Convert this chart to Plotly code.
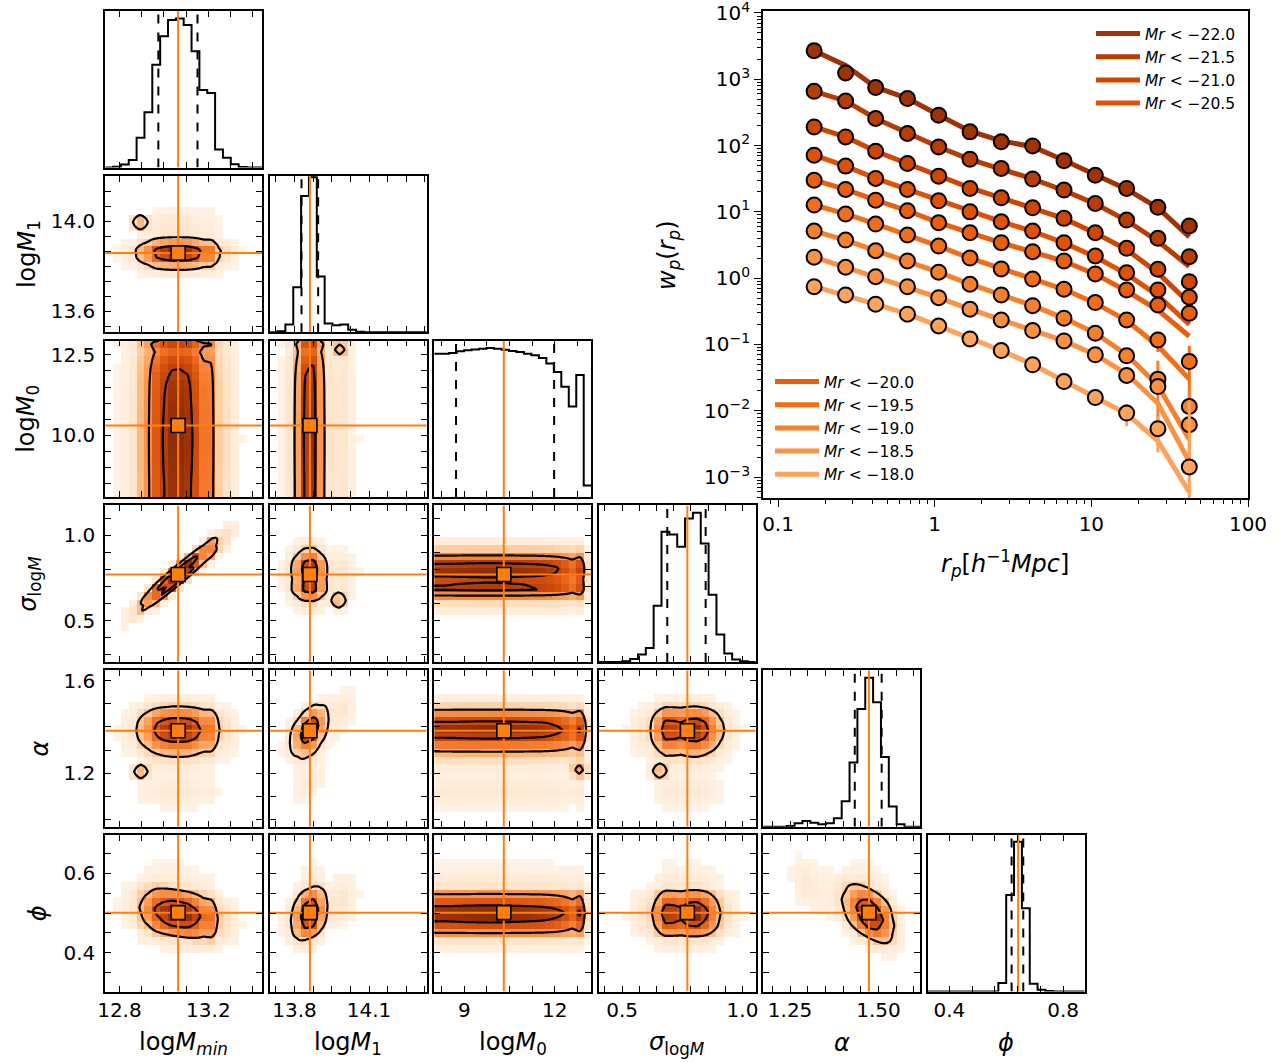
import numpy as np
import plotly.graph_objects as go

W, H = 1283, 1063

# ======================= DATA =======================
# ---- corner plot: parameter axes ----
x_ranges = [[12.736, 13.442], [13.70, 14.332], [8.0, 13.21], [0.4025, 1.055], [1.174, 1.618], [0.324, 0.876]]
y_ranges = [None, [13.506, 14.202], [8.09, 12.94], [0.259, 1.176], [0.968, 1.646], [0.302, 0.697]]

x_ticks = [
    [12.8, 12.9, 13.0, 13.1, 13.2, 13.3, 13.4],
    [13.725, 13.8, 13.875, 13.95, 14.025, 14.1, 14.175, 14.25, 14.325],
    [8.25, 9.0, 9.75, 10.5, 11.25, 12.0, 12.75],
    [0.4286, 0.5, 0.5714, 0.6429, 0.7143, 0.7857, 0.8571, 0.9286, 1.0],
    [1.2, 1.25, 1.3, 1.35, 1.4, 1.45, 1.5, 1.55, 1.6],
    [0.4, 0.48, 0.56, 0.64, 0.72, 0.8],
]
x_tick_labels = [
    ['12.8', '', '', '', '13.2', '', ''],
    ['', '13.8', '', '', '', '14.1', '', '', ''],
    ['', '9', '', '', '', '12', ''],
    ['', '0.5', '', '', '', '', '', '', '1.0'],
    ['', '1.25', '', '', '', '', '1.50', '', ''],
    ['0.4', '', '', '', '', '0.8'],
]
y_ticks = [
    None,
    [13.533, 13.6, 13.667, 13.733, 13.8, 13.867, 13.933, 14.0, 14.067, 14.133, 14.2],
    [8.5, 9.0, 9.5, 10.0, 10.5, 11.0, 11.5, 12.0, 12.5],
    [0.3, 0.4, 0.5, 0.6, 0.7, 0.8, 0.9, 1.0, 1.1],
    [1.0, 1.1, 1.2, 1.3, 1.4, 1.5, 1.6],
    [0.35, 0.4, 0.45, 0.5, 0.55, 0.6, 0.65],
]
y_tick_labels = [
    None,
    ['', '13.6', '', '', '', '', '', '14.0', '', '', ''],
    ['', '', '', '10.0', '', '', '', '', '12.5'],
    ['', '', '0.5', '', '', '', '', '1.0', ''],
    ['', '', '1.2', '', '', '', '1.6'],
    ['', '0.4', '', '', '', '0.6', ''],
]
x_titles = ['log<i>M<sub>min</sub></i>', 'log<i>M</i><sub>1</sub>', 'log<i>M</i><sub>0</sub>',
            '<i>σ</i><sub>log<i>M</i></sub>', '<i>α</i>', '<i>ϕ</i>']

truth_x = [13.064, 13.862, 10.31, 0.771, 1.473, 0.642]
truth_y = [None, 13.859, 10.31, 0.771, 1.384, 0.501]
q_lo = [12.975, 13.828, 8.725, 0.6875, 1.433, 0.619]
q_hi = [13.151, 13.895, 11.98, 0.847, 1.509, 0.660]

hist_logMmin = [0, 0.005, 0.02, 0.05, 0.20, 0.37, 0.69, 0.88, 0.99, 1.0, 0.956, 0.78, 0.52, 0.50, 0.12, 0.066, 0.022, 0.004, 0, 0]
hist_logM1 = [0, 0.006, 0.05, 0.29, 0.88, 1.0, 0.36, 0.056, 0.045, 0.05, 0.017, 0.004, 0, 0, 0, 0, 0, 0, 0, 0]
hist_logM0 = [0.962, 0.962, 0.967, 0.978, 0.985, 0.991, 0.996, 1.0, 0.996, 0.989, 0.98, 0.973, 0.962,
              0.951, 0.934, 0.896, 0.84, 0.741, 0.608, 0.819, 0.077]
hist_sigma = [0, 0, 0, 0.004, 0.02, 0.05, 0.094, 0.376, 0.873, 0.855, 0.773, 0.962, 1.0, 0.795, 0.45, 0.183, 0.056, 0.016, 0.004, 0]
hist_alpha = [0, 0, 0, 0.005, 0.023, 0.038, 0.027, 0.016, 0.023, 0.056, 0.17, 0.43, 0.79, 1.0, 0.835, 0.467, 0.135, 0.016, 0, 0]
hist_phi = [0, 0, 0, 0, 0, 0, 0, 0, 0, 0.056, 0.644, 1.0, 0.556, 0.051, 0.011, 0.003, 0, 0, 0, 0]
hists = [hist_logMmin, hist_logM1, hist_logM0, hist_sigma, hist_alpha, hist_phi]
hist_top = [1.05, 1.01, 1.05, 1.05, 1.05, 1.045]

# spread of each marginal when used on a y axis, correlation tilts (pixel slope) and conditional widths
y_spread = [1.0, 1.0, 1.0, 1.0, 1.5, 1.2]
tilt = {(0, 3): 0.82, (1, 4): 0.6, (1, 5): 0.4, (4, 5): -0.5, (0, 5): -0.15}
cond_width = {(0, 3): 0.45, (1, 4): 0.85}
# small secondary clumps of samples: (x-param, y-param, x value, y value, relative weight)
clumps = [
    (0, 1, 12.893, 13.996, 0.30),
    (1, 2, 13.982, 12.66, 0.32),
    (1, 3, 13.977, 0.618, 0.30),
    (0, 4, 12.896, 1.207, 0.30),
    (2, 4, 12.81, 1.215, 0.34),
    (3, 4, 0.655, 1.21, 0.30),
]

# ---- wp(rp) inset ----
rp = [0.17, 0.27, 0.42, 0.67, 1.06, 1.68, 2.66, 4.22, 6.69, 10.6, 16.8, 26.6, 42.2]
mag_labels = ['−22.0', '−21.5', '−21.0', '−20.5', '−20.0', '−19.5', '−19.0', '−18.5', '−18.0']
wp_m22_0 = [2700, 1245, 750, 512, 287, 161, 114, 98.9, 58.9, 35.8, 22.6, 11.7, 6.1]
wp_m21_5 = [659, 471, 256, 152, 95.5, 62.4, 45.2, 31.2, 21.3, 13.4, 7.53, 3.99, 2.11]
wp_m21_0 = [191, 135, 82.4, 53.7, 34.6, 22.6, 16.3, 11.5, 7.98, 4.84, 2.82, 1.36, 0.885]
wp_m20_5 = [71.6, 49.0, 31.9, 21.8, 14.7, 10.0, 7.09, 5.14, 3.43, 2.16, 1.21, 0.664, 0.515]
wp_m20_0 = [30.1, 21.8, 15.0, 10.4, 6.85, 4.84, 3.43, 2.51, 1.82, 1.16, 0.664, 0.394, 0.296]
wp_m19_5 = [12.7, 9.27, 6.55, 4.48, 3.05, 2.01, 1.38, 0.97, 0.68, 0.428, 0.234, 0.117, 0.0552]
wp_m19_0 = [5.14, 3.76, 2.59, 1.82, 1.23, 0.81, 0.558, 0.385, 0.249, 0.148, 0.0673, 0.030, 0.0116]
wp_m18_5 = [2.07, 1.46, 1.05, 0.745, 0.508, 0.34, 0.234, 0.162, 0.113, 0.0697, 0.034, 0.0232, 0.00615]
wp_m18_0 = [0.745, 0.558, 0.405, 0.286, 0.19, 0.121, 0.081, 0.0493, 0.0276, 0.0158, 0.00923, 0.00536, 0.00142]
wp_data = [wp_m22_0, wp_m21_5, wp_m21_0, wp_m20_5, wp_m20_0, wp_m19_5, wp_m19_0, wp_m18_5, wp_m18_0]

model_m22_0 = [2700, 1620, 760, 515, 290, 165, 118, 96, 60, 36, 22, 11.5, 4.2]
model_m21_5 = [659, 471, 256, 152, 95, 62, 45, 31.5, 21, 13.2, 7.4, 3.6, 1.5]
model_m21_0 = [191, 135, 82, 54, 35, 23, 16.3, 11.5, 7.9, 4.8, 2.7, 1.2, 0.42]
model_m20_5 = [71.6, 49, 32, 21.8, 14.7, 10, 7.1, 5.1, 3.4, 2.1, 1.15, 0.55, 0.2]
model_m20_0 = [30.1, 21.8, 15, 10.4, 6.9, 4.8, 3.4, 2.5, 1.8, 1.15, 0.64, 0.33, 0.133]
model_m19_5 = [12.7, 9.3, 6.6, 4.5, 3.05, 2.0, 1.38, 0.97, 0.68, 0.42, 0.23, 0.095, 0.030]
model_m19_0 = [5.14, 3.76, 2.6, 1.82, 1.23, 0.81, 0.56, 0.385, 0.25, 0.148, 0.07, 0.024, 0.0037]
model_m18_5 = [2.07, 1.46, 1.05, 0.745, 0.51, 0.34, 0.234, 0.162, 0.113, 0.07, 0.036, 0.013, 0.0017]
model_m18_0 = [0.745, 0.558, 0.405, 0.29, 0.19, 0.121, 0.081, 0.05, 0.028, 0.016, 0.009, 0.0035, 0.00059]
wp_model = [model_m22_0, model_m21_5, model_m21_0, model_m20_5, model_m20_0, model_m19_5,
            model_m19_0, model_m18_5, model_m18_0]

wp_err = {
    5: [0, 0, 0, 0, 0, 0, 0, 0, 0, 0, 0, 0.040, 0.040],
    6: [0, 0, 0, 0, 0, 0, 0, 0, 0, 0, 0, 0.027, 0.010],
    8: [0, 0, 0, 0, 0, 0, 0, 0, 0, 0, 0.0034, 0.0030, 0.0130],
}

# ======================= STYLE / LAYOUT =======================
series_colors = ['#a03204', '#b83d03', '#cf4602', '#df5206', '#ea5f0e', '#f26f1a', '#f7802d', '#fb9142', '#fda35b']
ORANGE = '#ff7f0e'
FONT = 'DejaVu Sans'
col_left = [105.2 + 164.5 * c for c in range(6)]
row_top = [11.0 + 164.8 * r for r in range(6)]
PW, PH = 157.0, 156.5
heat_cs = [[0.0, 'rgba(255,255,255,0)'], [0.003, '#fff3e6'], [0.06, '#fee3c8'], [0.14, '#fdc895'],
           [0.3, '#fd9f5a'], [0.5, '#f4772a'], [0.7, '#db5410'], [0.85, '#bd410a'], [1.0, '#8e2c05']]
CLUMP_PX = 11.0   # half-size of a clump kernel in pixels


def edges_centers(i):
    lo, hi = x_ranges[i]
    e = np.linspace(lo, hi, len(hists[i]) + 1)
    return e, 0.5 * (e[1:] + e[:-1])


def marg(i, u):
    lo, hi = x_ranges[i]
    _, c = edges_centers(i)
    f = np.interp(u, c, np.asarray(hists[i], float))
    return np.where((u >= lo) & (u <= hi), f, 0.0)


def upp(i, j):
    return (x_ranges[i][1] - x_ranges[i][0]) / PW, (y_ranges[j][1] - y_ranges[j][0]) / PH


def dens(i, j, U, V, zmax=None):
    xu, yu = upp(i, j)
    s = tilt.get((i, j), 0.0) * yu / xu
    w = cond_width.get((i, j), 1.0)
    veff = truth_y[j] + (V - truth_y[j] - s * (U - truth_x[i])) / w
    ueq = truth_x[j] + (veff - truth_y[j]) / y_spread[j]
    Z = marg(i, U) * marg(j, ueq)
    if zmax is None:
        zmax = Z.max()
    for (ci, cj, cu, cv, cw) in clumps:
        if (ci, cj) == (i, j):
            kx = np.clip(1 - np.abs(U - cu) / (CLUMP_PX * xu), 0, None)
            ky = np.clip(1 - np.abs(V - cv) / (CLUMP_PX * yu), 0, None)
            Z = Z + cw * zmax * kx * ky
    return Z


fig = go.Figure()
layout = dict(width=W, height=H, margin=dict(l=0, r=0, t=0, b=0, autoexpand=False), autosize=False,
              paper_bgcolor='white', plot_bgcolor='white', font=dict(family=FONT, color='black'),
              showlegend=True)
annotations = []


def axname(n):
    return ('xaxis', 'yaxis', 'x', 'y') if n == 1 else (f'xaxis{n}', f'yaxis{n}', f'x{n}', f'y{n}')


base_axis = dict(showline=True, linecolor='black', linewidth=1.7, showgrid=False, zeroline=False,
                 tickcolor='black', tickwidth=1.3, ticklen=6, ticks='inside', automargin=False,
                 tickfont=dict(family=FONT, size=20, color='black'))

n = 0
for r in range(6):
    for c in range(r + 1):
        n += 1
        xa, ya, xr, yr = axname(n)
        x0 = col_left[c]
        y0 = row_top[r]
        xdom = [x0 / W, (x0 + PW) / W]
        ydom = [1 - (y0 + PH) / H, 1 - y0 / H]
        xax = dict(base_axis, domain=xdom, anchor=yr, range=x_ranges[c], mirror='ticks',
                   tickmode='array', tickvals=x_ticks[c],
                   ticktext=x_tick_labels[c] if r == 5 else [''] * len(x_ticks[c]),
                   showticklabels=(r == 5))
        if r == c:
            # ---------------- 1D histogram ----------------
            e, _ = edges_centers(c)
            h = list(hists[c])
            fig.add_trace(go.Scatter(x=list(e), y=h + [h[-1]], mode='lines', line=dict(color='black', width=2, shape='hv'),
                                     xaxis=xr, yaxis=yr, showlegend=False, hoverinfo='skip'))
            for q in (q_lo[c], q_hi[c]):
                fig.add_trace(go.Scatter(x=[q, q], y=[0, hist_top[c]], mode='lines',
                                         line=dict(color='black', width=2, dash='dash'),
                                         xaxis=xr, yaxis=yr, showlegend=False, hoverinfo='skip'))
            fig.add_trace(go.Scatter(x=[truth_x[c], truth_x[c]], y=[0, hist_top[c]], mode='lines',
                                     line=dict(color=ORANGE, width=2), xaxis=xr, yaxis=yr,
                                     showlegend=False, hoverinfo='skip'))
            yax = dict(base_axis, domain=ydom, anchor=xr, range=[0, hist_top[c]], ticks='', mirror=True,
                       showticklabels=False)
        else:
            i, j = c, r
            # ---------------- 2D density ----------------
            _, xc = edges_centers(i)
            ylo, yhi = y_ranges[j]
            ye = np.linspace(ylo, yhi, 21)
            yc = 0.5 * (ye[1:] + ye[:-1])
            uf = np.linspace(x_ranges[i][0], x_ranges[i][1], 120)
            vf = np.linspace(ylo, yhi, 120)
            UU, VV = np.meshgrid(uf, vf)
            zref = dens(i, j, UU, VV, zmax=0.0).max()
            Zf = dens(i, j, UU, VV, zmax=zref)
            XC, YC = np.meshgrid(xc, yc)
            Zc = dens(i, j, XC, YC, zmax=zref)
            Zc = Zc / Zc.max()
            Zc = np.where(Zc < 0.004, None, Zc)
            fig.add_trace(go.Heatmap(x=xc, y=yc, z=Zc.tolist(), colorscale=heat_cs, zmin=0, zmax=1,
                                     showscale=False, showlegend=False, xaxis=xr, yaxis=yr, hoverinfo='skip'))
            flat = np.sort(Zf.ravel())[::-1]
            cum = np.cumsum(flat)
            cum /= cum[-1]
            t_in = flat[np.searchsorted(cum, 0.393)]
            t_out = flat[np.searchsorted(cum, 0.865)]
            fig.add_trace(go.Contour(x=uf, y=vf, z=Zf.tolist(), autocontour=False,
                                     contours=dict(start=t_out, end=t_in, size=max(t_in - t_out, 1e-9),
                                                   coloring='none'),
                                     line=dict(color='black', width=2.2, smoothing=1.0),
                                     showscale=False, showlegend=False, xaxis=xr, yaxis=yr, hoverinfo='skip'))
            fig.add_trace(go.Scatter(x=[truth_x[i], truth_x[i]], y=[ylo, yhi], mode='lines',
                                     line=dict(color=ORANGE, width=2), xaxis=xr, yaxis=yr,
                                     showlegend=False, hoverinfo='skip'))
            fig.add_trace(go.Scatter(x=list(x_ranges[i]), y=[truth_y[j], truth_y[j]], mode='lines',
                                     line=dict(color=ORANGE, width=2), xaxis=xr, yaxis=yr,
                                     showlegend=False, hoverinfo='skip'))
            fig.add_trace(go.Scatter(x=[truth_x[i]], y=[truth_y[j]], mode='markers',
                                     marker=dict(symbol='square', size=14, color=ORANGE,
                                                 line=dict(color='black', width=1.6)),
                                     xaxis=xr, yaxis=yr, showlegend=False, hoverinfo='skip', cliponaxis=False))
            yax = dict(base_axis, domain=ydom, anchor=xr, range=y_ranges[j], mirror='ticks',
                       tickmode='array', tickvals=y_ticks[j],
                       ticktext=y_tick_labels[j] if c == 0 else [''] * len(y_ticks[j]),
                       showticklabels=(c == 0), ticklabelstandoff=4)
        layout[xa] = xax
        layout[ya] = yax

# axis titles of the corner plot
for c in range(6):
    annotations.append(dict(text=x_titles[c], x=(col_left[c] + PW / 2) / W, y=1 - 1043 / H,
                            xref='paper', yref='paper', showarrow=False, xanchor='center', yanchor='middle',
                            font=dict(family=FONT, size=24, color='black')))
left_title_x = [None, 28, 28, 30, 40, 38]
for r in range(1, 6):
    annotations.append(dict(text=x_titles[r], x=left_title_x[r] / W, y=1 - (row_top[r] + PH / 2) / H,
                            xref='paper', yref='paper', showarrow=False, xanchor='center', yanchor='middle',
                            textangle=-90, font=dict(family=FONT, size=24, color='black')))

# ======================= wp(rp) inset =======================
n += 1
xa, ya, xr, yr = axname(n)
for s in range(9):
    col = series_colors[s]
    leg = 'legend' if s < 4 else 'legend2'
    fig.add_trace(go.Scatter(x=rp, y=wp_model[s], mode='lines', line=dict(color=col, width=5),
                             name=f'<i>Mr</i> < {mag_labels[s]}', legend=leg, xaxis=xr, yaxis=yr,
                             hoverinfo='skip'))
    pt = dict(x=rp, y=wp_data[s], mode='markers', xaxis=xr, yaxis=yr, showlegend=False, hoverinfo='skip',
              marker=dict(size=15, color=col, line=dict(color='black', width=2)))
    if s in wp_err:
        up = wp_err[s]
        dn = [min(e, v - 1e-4) for e, v in zip(up, wp_data[s])]
        pt['error_y'] = dict(type='data', array=up, arrayminus=dn, color=col, thickness=3, width=0)
    fig.add_trace(go.Scatter(**pt))

minor_x = [m * 10.0 ** k for k in range(-2, 2) for m in range(2, 10)]
minor_y = [m * 10.0 ** k for k in range(-4, 4) for m in range(2, 10)]
layout[xa] = dict(type='log', domain=[763 / W, 1248 / W], anchor=yr, range=[-1.096, 2.0],
                  showline=True, linecolor='black', linewidth=1.7, mirror=True, showgrid=False, zeroline=False,
                  ticks='outside', ticklen=7, tickwidth=1.3, tickcolor='black', automargin=False,
                  tickmode='array', tickvals=[0.1, 1, 10, 100], ticktext=['0.1', '1', '10', '100'],
                  tickfont=dict(family=FONT, size=20, color='black'), ticklabeloverflow='allow',
                  minor=dict(ticks='outside', ticklen=4, tickwidth=1, tickcolor='black', tickmode='array',
                             tickvals=minor_x, showgrid=False))
ytv = [1e-3, 1e-2, 1e-1, 1, 10, 100, 1e3, 1e4]
ytt = ['10<sup>−3</sup>', '10<sup>−2</sup>', '10<sup>−1</sup>', '10<sup>0</sup>', '10<sup>1</sup>',
       '10<sup>2</sup>', '10<sup>3</sup>', '10<sup>4</sup>']
layout[ya] = dict(type='log', domain=[1 - 498 / H, 1 - 11 / H], anchor=xr, range=[-3.316, 4.03],
                  showline=True, linecolor='black', linewidth=1.7, mirror=True, showgrid=False, zeroline=False,
                  ticks='outside', ticklen=7, tickwidth=1.3, tickcolor='black', automargin=False,
                  tickmode='array', tickvals=ytv, ticktext=ytt, ticklabeloverflow='allow',
                  tickfont=dict(family=FONT, size=20, color='black'),
                  minor=dict(ticks='outside', ticklen=4, tickwidth=1, tickcolor='black', tickmode='array',
                             tickvals=minor_y, showgrid=False))
annotations.append(dict(text='<i>w<sub>p</sub></i>(<i>r<sub>p</sub></i>)', x=668 / W, y=1 - 255 / H,
                        xref='paper', yref='paper', showarrow=False, textangle=-90,
                        xanchor='center', yanchor='middle', font=dict(family=FONT, size=24, color='black')))
annotations.append(dict(text='<i>r<sub>p</sub></i>[<i>h</i><sup>−1</sup><i>Mpc</i>]', x=1005 / W, y=1 - 563 / H,
                        xref='paper', yref='paper', showarrow=False,
                        xanchor='center', yanchor='middle', font=dict(family=FONT, size=24, color='black')))

layout['legend'] = dict(x=1091 / W, y=1 - 17 / H, xanchor='left', yanchor='top', bgcolor='rgba(0,0,0,0)',
                        font=dict(family=FONT, size=15.5, color='black'), tracegroupgap=0, itemwidth=44)
layout['legend2'] = dict(x=770 / W, y=1 - 365 / H, xanchor='left', yanchor='top', bgcolor='rgba(0,0,0,0)',
                         font=dict(family=FONT, size=15.5, color='black'), tracegroupgap=0, itemwidth=44)
layout['annotations'] = annotations
fig.update_layout(**layout)
fig.write_html('out.html', config={'responsive': False, 'displayModeBar': False},
               post_script="document.body.style.margin='0';document.body.style.overflow='hidden';")
